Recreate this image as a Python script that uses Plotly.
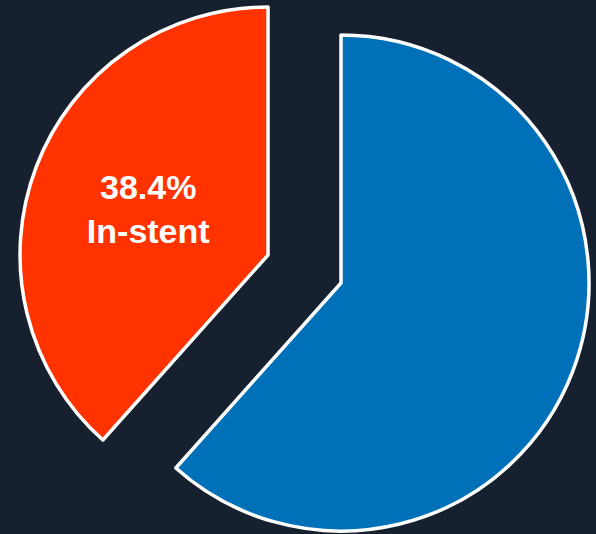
import plotly.graph_objects as go

labels = ["Other", "In-stent"]
values = [61.6, 38.4]
slice_text = ["", "38.4%<br>In-stent"]
colors = ["#0070B8", "#FF3300"]
bg = "#16202E"

fig = go.Figure()

# Each slice drawn by its own pie trace so it can be offset ("pulled") at full size
# Blue slice
fig.add_trace(go.Pie(
    labels=labels, values=values, sort=False, direction="clockwise", rotation=0,
    marker=dict(colors=[colors[0], "rgba(0,0,0,0)"],
                line=dict(color=["white", "rgba(0,0,0,0)"], width=[3.5, 0])),
    text=["", ""], textinfo="none", hoverinfo="skip",
    domain=dict(x=[0.1560, 0.9883], y=[0.0056, 0.9345]),
    showlegend=False,
))
# Orange slice
fig.add_trace(go.Pie(
    labels=labels, values=values, sort=False, direction="clockwise", rotation=0,
    marker=dict(colors=["rgba(0,0,0,0)", colors[1]],
                line=dict(color=["rgba(0,0,0,0)", "white"], width=[0, 3.5])),
    text=slice_text, textinfo="text", textposition="inside",
    insidetextorientation="horizontal",
    insidetextfont=dict(family="Liberation Sans, Arial, sans-serif", size=34,
                        color="white", weight="bold"),
    hoverinfo="label+percent",
    domain=dict(x=[0.0336, 0.8658], y=[0.0581, 0.9869]),
    showlegend=False,
))

fig.update_layout(
    width=596, height=534,
    margin=dict(l=0, r=0, t=0, b=0),
    paper_bgcolor=bg, plot_bgcolor=bg,
    font=dict(family="Liberation Sans, Arial, sans-serif", color="white"),
)

fig.write_html(
    "out.html",
    config={"displayModeBar": False},
    post_script="document.body.style.margin='0';document.body.style.background='#16202E';",
)
